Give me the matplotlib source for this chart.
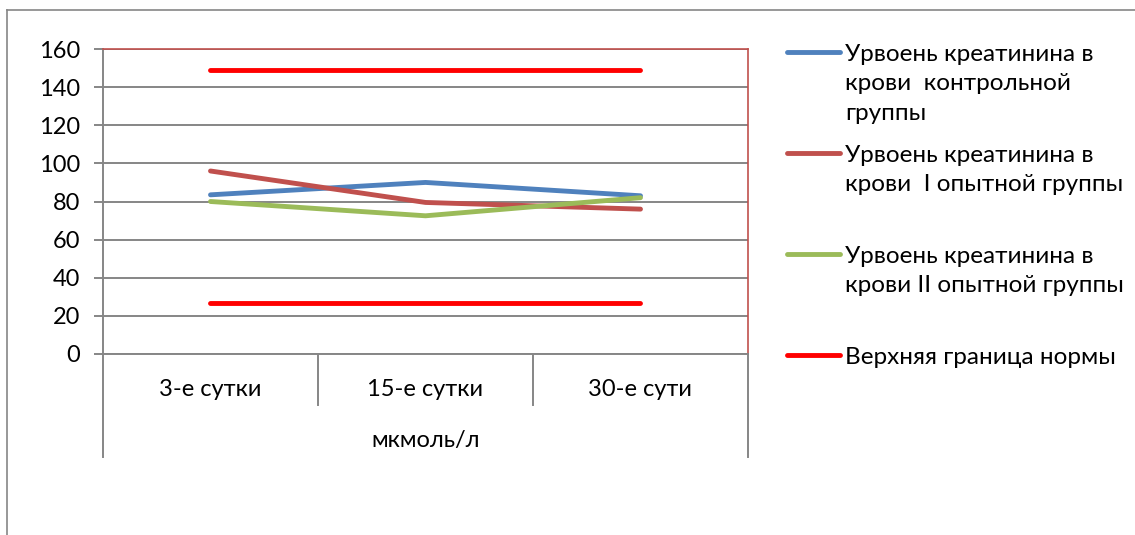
import matplotlib
matplotlib.use("Agg")
import matplotlib.pyplot as plt
from matplotlib.lines import Line2D
from matplotlib.transforms import blended_transform_factory, offset_copy

plt.rcParams['font.family'] = ['Lato', 'DejaVu Sans']

# Data
categories = ["3-е сутки", "15-е сутки", "30-е сути"]
unit_label = "мкмоль/л"
control_group = [83.5, 90, 83]
exp_group_1 = [96, 79.5, 76]
exp_group_2 = [80, 72.5, 82]
norm_upper = [149, 149, 149]
norm_lower = [27, 27, 27]
yticks = [0, 20, 40, 60, 80, 100, 120, 140, 160]

series = [
    ("Урвоень креатинина в\nкрови  контрольной\nгруппы", control_group, "#4F81BD"),
    ("Урвоень креатинина в\nкрови  I опытной группы", exp_group_1, "#C0504D"),
    ("Урвоень креатинина в\nкрови II опытной группы", exp_group_2, "#9BBB59"),
    ("Верхняя граница нормы", norm_upper, "#FF0000"),
]

W, H = 1135, 535
FS = 17
fig = plt.figure(figsize=(W / 100, H / 100), dpi=100)
fig.patch.set_facecolor("white")

# Outer chart frame (continues past the right and bottom edges)
grey = "#868686"
fig.add_artist(Line2D([7 / W, 7 / W], [0, 1 - 10 / H], color=grey, lw=1.2, transform=fig.transFigure))
fig.add_artist(Line2D([7 / W, 1], [1 - 10 / H, 1 - 10 / H], color=grey, lw=1.2, transform=fig.transFigure))

left, right, top, bottom = 103, 748, 49, 354
ax = fig.add_axes([left / W, 1 - bottom / H, (right - left) / W, (bottom - top) / H])

x = list(range(len(categories)))
lw = 3.5
for label, vals, color in series:
    ax.plot(x, vals, color=color, lw=lw, solid_capstyle="round", solid_joinstyle="round", zorder=3)
ax.plot(x, norm_lower, color="#FF0000", lw=lw, solid_capstyle="round", zorder=3)

ax.set_xlim(-0.5, len(categories) - 0.5)
ax.set_ylim(0, 160)
ax.set_yticks(yticks)
ax.grid(axis="y", color=grey, lw=1.4, zorder=0)
ax.set_axisbelow(True)

for s in ("top", "right"):
    ax.spines[s].set_color("#C0504D")
    ax.spines[s].set_linewidth(1.2)
for s in ("left", "bottom"):
    ax.spines[s].set_color(grey)
    ax.spines[s].set_linewidth(1.4)

ax.tick_params(axis="y", direction="out", length=6.5, width=1.4, color=grey,
               pad=10, labelsize=FS, labelcolor="black")
ax.set_xticks([])

# Multi-level category axis
tr = blended_transform_factory(ax.transData, ax.transAxes)
for i, cat in enumerate(categories):
    ax.text(i, 0, cat, transform=offset_copy(tr, fig=fig, y=-36, units="dots"),
            ha="center", va="center", fontsize=FS, color="black")
ax.text((len(categories) - 1) / 2, 0, unit_label,
        transform=offset_copy(tr, fig=fig, y=-87, units="dots"),
        ha="center", va="center", fontsize=FS, color="black")

ph = bottom - top
for b in [i + 0.5 for i in range(len(categories) - 1)]:
    ax.add_artist(Line2D([b, b], [0, -51 / ph], color=grey, lw=1.4, clip_on=False, transform=tr))
for b in [-0.5, len(categories) - 0.5]:
    ax.add_artist(Line2D([b, b], [0, -103 / ph], color=grey, lw=1.4, clip_on=False, transform=tr))

# Legend, one equal-height slot per series
slot_top, slot_step = 52, 101
for k, (label, vals, color) in enumerate(series):
    yc = slot_top + k * slot_step
    fig.add_artist(Line2D([787 / W, 840 / W], [1 - yc / H, 1 - yc / H], color=color, lw=lw,
                          solid_capstyle="round", transform=fig.transFigure))
    fig.text(845 / W, 1 - (yc - 8) / H, label, ha="left", va="top", fontsize=17.5,
             linespacing=1.5, color="black")

fig.savefig("out.png", dpi=100, facecolor="white")
